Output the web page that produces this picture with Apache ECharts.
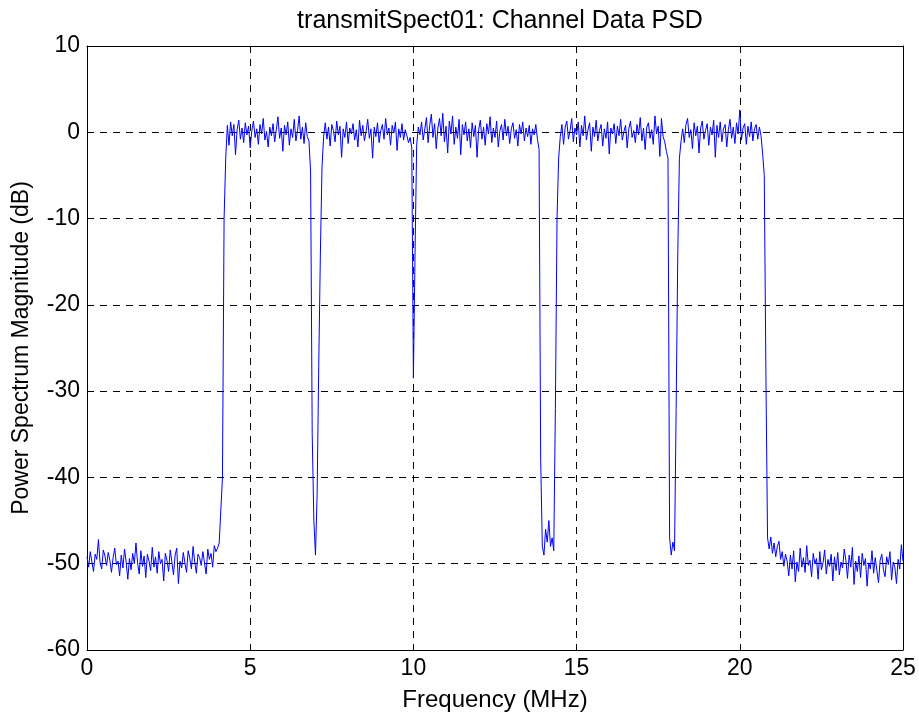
<!DOCTYPE html>
<html>
<head>
<meta charset="utf-8">
<script src="https://cdn.jsdelivr.net/npm/echarts@6/dist/echarts.min.js"></script>
<style>
html,body{margin:0;padding:0;background:#fff;}
#chart{width:919px;height:717px;}
</style>
</head>
<body>
<div id="chart"></div>
<script>
// Frequency resolution of the PSD samples (MHz)
const freqStep = 0.05;

// PSD magnitude (dB), in consecutive frequency order
const lowNoiseLeft = [ // 0.00 - 4.05 MHz
  -49.2,-50.4,-48.6,-49.8,-50.9,-48.9,-49.5,-47.2,-49.9,-50.6,
  -48.4,-49.1,-50.2,-48.7,-49.6,-51.0,-49.3,-48.2,-50.1,-49.7,
  -51.4,-49.0,-50.5,-48.3,-49.8,-51.8,-49.4,-50.7,-48.8,-50.0,
  -47.6,-49.9,-51.2,-48.5,-50.3,-49.1,-51.6,-48.9,-49.7,-50.8,
  -48.1,-50.4,-49.2,-51.1,-48.6,-50.0,-49.5,-52.0,-48.8,-49.6,
  -50.9,-48.4,-49.8,-51.3,-49.0,-48.2,-52.3,-49.7,-50.5,-48.7,
  -49.9,-51.0,-48.5,-49.4,-50.6,-48.0,-49.8,-51.1,-48.9,-49.3,
  -50.2,-48.6,-49.9,-51.2,-48.3,-49.5,-48.8,-50.4,-47.9,-48.6,
  -48.2,-47.6
];
const riseEdge = [-47.5,-40,-10,-3]; // 4.10 - 4.25
const band1 = [ // 4.30 - 6.75
  0.8,-1.5,1.2,-0.4,0.9,-2.6,0.3,1.4,-0.8,0.5,
  -1.2,1.1,-0.3,0.7,-1.8,0.2,1.3,-0.6,0.4,-1.4,
  0.9,-0.2,1.6,-0.9,0.1,-1.7,0.6,-0.4,1.0,-1.1,
  0.3,1.8,-0.7,0.5,-2.2,0.8,-0.3,1.2,-1.5,0.4,
  -0.6,1.5,-1.0,0.2,1.9,-0.8,0.6,-1.3,1.1,-0.5
];
const notch7 = [-1.0,-4.5,-35,-45,-49,-42,-27,-14,-4]; // 6.80 - 7.20
const band2 = [ // 7.25 - 9.95
  -0.5,1.1,-0.8,0.6,-1.6,0.9,0.2,-1.1,1.3,-0.3,
  0.7,-2.9,0.4,-0.6,1.2,-1.3,0.5,-0.2,1.0,-0.9,
  0.3,-1.7,1.4,-0.4,0.8,-1.0,0.1,1.5,-0.7,0.4,
  -3.0,0.6,-0.5,1.1,-1.2,0.2,0.9,-0.8,1.6,-0.3,
  0.5,-1.5,0.8,-0.1,1.2,-2.1,0.4,-0.6,1.0,-0.9,
  0.3,-0.4,-1.2,-0.6,-1.8
];
const notch10 = [-28.5,-14]; // 10.00 - 10.05
const band3 = [ // 10.10 - 13.80
  -1.5,0.6,-0.3,1.2,-0.9,0.4,1.7,-1.2,0.8,2.1,
  -0.6,1.0,-1.9,0.5,1.6,-0.4,2.2,-1.1,0.7,-2.4,
  1.3,-0.2,1.9,-1.4,0.6,-0.7,1.5,-2.6,0.9,-0.3,
  1.2,-1.0,0.4,-1.8,1.1,-0.5,0.8,-2.9,0.3,1.4,
  -0.8,0.6,-1.5,1.0,-0.2,1.8,-1.2,0.5,-0.6,1.3,
  -1.7,0.2,0.9,-0.9,1.5,-0.4,0.7,-1.3,0.4,1.1,
  -0.7,0.3,-1.6,0.9,-0.2,1.2,-1.0,0.5,-0.5,0.8,
  -1.4,0.4,-0.3,0.9,-0.8
];
const notch14 = [-2,-38,-48,-49,-46,-47.5,-45,-48,-47,-48.5,-32,-10,-3]; // 13.85 - 14.45
const band4 = [ // 14.50 - 17.75
  -0.5,0.9,-1.4,0.6,1.3,-0.8,0.2,1.6,-1.1,0.5,
  -0.3,1.2,-1.7,0.8,-0.4,1.9,-0.9,0.3,1.1,-2.2,
  0.6,-0.5,1.4,-1.0,0.2,0.9,-1.6,0.4,-0.7,1.2,
  -2.5,0.5,-0.2,1.0,-1.3,0.7,-0.4,1.5,-0.9,0.1,
  0.8,-1.8,0.4,1.3,-0.6,0.2,-1.2,0.9,-0.3,1.7,
  -1.0,0.5,-2.0,0.6,1.1,-0.7,0.3,-1.4,1.9,-0.2,
  0.7,-2.8,1.6,-0.5,-1.1,-2.2
];
const notch18 = [-3,-47,-49,-47.5,-48.5,-32,-14,-3,-1]; // 17.80 - 18.20
const band5 = [ // 18.25 - 20.65
  0.4,-1.2,0.9,1.6,-0.6,0.3,-1.9,1.1,-0.4,0.7,
  -2.4,0.5,1.3,-0.8,0.2,1.0,-1.5,0.6,-0.3,1.4,
  -2.9,0.8,-0.6,1.2,-1.1,0.4,0.9,-1.7,0.3,1.5,
  -0.7,0.6,-1.3,1.1,-0.2,2.6,-0.9,0.5,1.0,-1.4,
  0.7,-0.5,1.2,-1.0,0.4,0.9,-0.8,0.6,-0.4
];
const fallEdge = [-2.5,-5,-28,-47]; // 20.70 - 20.85
const lowNoiseRight = [ // 20.90 - 25.00
  -48.3,-46.9,-48.8,-47.6,-49.2,-48.0,-47.4,-49.5,-48.6,-50.3,
  -48.9,-49.7,-51.4,-49.0,-50.6,-48.5,-52.1,-49.8,-50.9,-48.2,
  -50.4,-49.3,-51.0,-47.9,-50.2,-49.6,-51.5,-48.8,-50.0,-49.4,
  -51.8,-48.6,-50.7,-49.9,-48.4,-51.2,-49.5,-50.3,-48.9,-52.0,
  -49.2,-50.8,-48.7,-51.3,-49.8,-50.5,-48.3,-49.6,-51.7,-49.0,
  -50.4,-48.1,-52.4,-49.7,-50.9,-49.1,-51.6,-48.8,-50.2,-49.4,
  -52.6,-49.9,-50.6,-48.5,-51.1,-49.3,-50.8,-52.2,-49.6,-48.9,
  -50.7,-51.5,-49.2,-50.1,-48.6,-51.9,-49.8,-50.4,-52.3,-49.5,
  -50.6,-47.8,-49.7
];

const xTicks = [0, 5, 10, 15, 20, 25];
const yTicks = [-60, -50, -40, -30, -20, -10, 0, 10];

const psd = [].concat(lowNoiseLeft, riseEdge, band1, notch7, band2, notch10,
  band3, notch14, band4, notch18, band5, fallEdge, lowNoiseRight);
const seriesData = psd.map((v, i) => [Math.round(i * freqStep * 1000) / 1000, v]);

const FONT = "'Liberation Sans', Arial, Helvetica, sans-serif";
const chart = echarts.init(document.getElementById('chart'), null, {renderer: 'canvas'});

const commonAxis = {
  axisLine: {show: true, onZero: false, lineStyle: {color: '#000', width: 1}},
  axisTick: {show: true, inside: true, length: 6, lineStyle: {color: '#000'}},
};

chart.setOption({
  animation: false,
  backgroundColor: '#fff',
  title: {
    text: 'transmitSpect01: Channel Data PSD',
    left: 495, top: 4, textAlign: 'center',
    textStyle: {fontFamily: FONT, fontSize: 25, fontWeight: 'normal', color: '#000'}
  },
  grid: {left: 87, right: 16, top: 46, bottom: 67, show: false},
  xAxis: [{
    type: 'value', min: xTicks[0], max: xTicks[xTicks.length - 1], interval: 5,
    name: 'Frequency (MHz)', nameLocation: 'middle', nameGap: 38,
    nameTextStyle: {fontFamily: FONT, fontSize: 24, color: '#000'},
    ...commonAxis,
    axisLabel: {fontFamily: FONT, fontSize: 23, color: '#000', margin: 7},
    splitLine: {show: true, lineStyle: {color: '#000', type: [7, 6], width: 1}}
  }, {
    type: 'value', position: 'top', min: 0, max: 25, interval: 5,
    ...commonAxis,
    axisLabel: {show: false}, splitLine: {show: false}
  }],
  yAxis: [{
    type: 'value', min: yTicks[0], max: yTicks[yTicks.length - 1], interval: 10,
    name: 'Power Spectrum Magnitude (dB)', nameLocation: 'middle', nameGap: 54,
    nameTextStyle: {fontFamily: FONT, fontSize: 23, color: '#000'},
    ...commonAxis,
    axisLabel: {fontFamily: FONT, fontSize: 23, color: '#000', margin: 7},
    splitLine: {show: true, lineStyle: {color: '#000', type: [7, 6], width: 1}}
  }, {
    type: 'value', position: 'right', min: -60, max: 10, interval: 10,
    ...commonAxis,
    axisLabel: {show: false}, splitLine: {show: false}
  }],
  series: [{
    type: 'line', data: seriesData, xAxisIndex: 0, yAxisIndex: 0,
    showSymbol: false, symbol: 'none',
    lineStyle: {color: '#0000ff', width: 1},
    z: 5
  }]
});
</script>
</body>
</html>
